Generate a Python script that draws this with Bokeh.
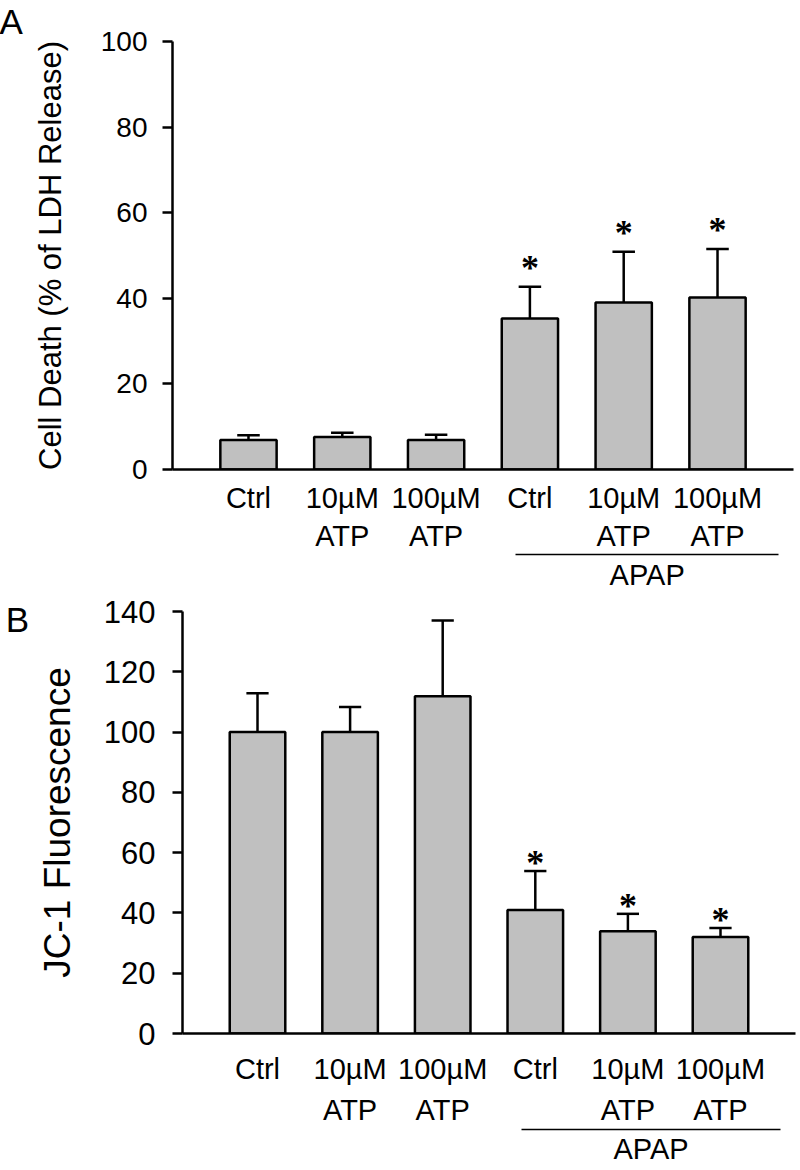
from bokeh.plotting import figure
from bokeh.models import FixedTicker, LinearAxis, Range1d, ColumnDataSource, Label
from bokeh.layouts import column
from bokeh.embed import file_html
from bokeh.resources import INLINE

# ---------------- data ----------------
categories = ["Ctrl", "10µM\nATP", "100µM\nATP", "Ctrl", "10µM\nATP", "100µM\nATP"]
group_label = "APAP"

ldh_mean = [6.9, 7.6, 6.9, 35.3, 39.0, 40.2]
ldh_err = [1.1, 1.0, 1.2, 7.4, 11.9, 11.3]
ldh_sig = [False, False, False, True, True, True]
ldh_ticks = [0, 20, 40, 60, 80, 100]

jc1_mean = [100.0, 100.0, 111.9, 41.0, 33.9, 32.0]
jc1_err = [12.9, 8.3, 25.1, 12.9, 5.8, 3.0]
jc1_sig = [False, False, False, True, True, True]
jc1_ticks = [0, 20, 40, 60, 80, 100, 120, 140]

FONT = "Liberation Sans"
BAR_FILL = "#c0c0c0"
INK = "#000000"


def make_panel(ylabel, means, errs, sig, ticks, height, borders,
               tick_font, ylabel_font, tick_standoff, ylabel_standoff,
               cat_standoff, cat_line_height, group_standoff, star_offset):
    left, right, top, bottom = borders
    p = figure(width=800, height=height, output_backend="svg", toolbar_location=None,
               x_range=Range1d(-0.81, 5.81), y_range=Range1d(0, ticks[-1]),
               min_border_left=left, min_border_right=right,
               min_border_top=top, min_border_bottom=bottom)
    p.frame_align = False
    p.outline_line_color = None
    p.grid.visible = False
    p.background_fill_color = "white"
    p.border_fill_color = "white"

    n = len(means)
    xs = list(range(n))
    tops = [m + e for m, e in zip(means, errs)]
    src = ColumnDataSource(dict(x=xs, top=means, cap=tops,
                                cap_l=[x - 0.12 for x in xs], cap_r=[x + 0.12 for x in xs]))
    # error bars (upper only)
    p.segment(x0="x", y0="top", x1="x", y1="cap", source=src, line_color=INK, line_width=2.5)
    p.segment(x0="cap_l", y0="cap", x1="cap_r", y1="cap", source=src, line_color=INK, line_width=2.5)
    # bars
    p.vbar(x="x", top="top", bottom=0, width=0.6, source=src,
           fill_color=BAR_FILL, line_color=INK, line_width=2.5)
    # significance stars
    sx = [x for x, s in zip(xs, sig) if s]
    sy = [c for c, s in zip(tops, sig) if s]
    p.text(x=sx, y=sy, text=["*"] * len(sx), text_align="center", text_baseline="alphabetic",
           y_offset=star_offset, text_font="Liberation Sans", text_font_size="36px",
           text_font_style="bold", text_color=INK)

    # y axis
    ya = p.yaxis[0]
    ya.ticker = FixedTicker(ticks=ticks)
    ya.axis_label = ylabel
    ya.axis_label_text_font = FONT
    ya.axis_label_text_font_size = ylabel_font
    ya.axis_label_text_font_style = "normal"
    ya.axis_label_text_color = INK
    ya.axis_label_standoff = ylabel_standoff
    ya.major_label_text_font = FONT
    ya.major_label_text_font_size = tick_font
    ya.major_label_text_color = INK
    ya.major_label_standoff = tick_standoff
    ya.major_tick_out = 10
    ya.major_tick_in = 0
    ya.minor_tick_line_color = None
    ya.axis_line_width = 2.5
    ya.major_tick_line_width = 2.5
    ya.axis_line_color = INK
    ya.major_tick_line_color = INK

    # x axis with category labels
    xa = p.xaxis[0]
    xa.ticker = FixedTicker(ticks=xs)
    xa.major_label_overrides = {i: c for i, c in enumerate(categories)}
    xa.major_label_text_font = FONT
    xa.major_label_text_font_size = "29px"
    xa.major_label_text_line_height = cat_line_height
    xa.major_label_text_color = INK
    xa.major_label_standoff = cat_standoff
    xa.major_tick_line_color = None
    xa.major_tick_out = 0
    xa.major_tick_in = 0
    xa.minor_tick_line_color = None
    xa.axis_line_width = 2.5
    xa.axis_line_color = INK

    # group axis (APAP)
    ga = LinearAxis(ticker=FixedTicker(ticks=[4.25]), bounds=(2.85, 5.65),
                    major_label_overrides={4.25: group_label})
    ga.major_label_text_font = FONT
    ga.major_label_text_font_size = "29px"
    ga.major_label_text_color = INK
    ga.major_label_standoff = group_standoff
    ga.major_tick_line_color = None
    ga.major_tick_out = 0
    ga.major_tick_in = 0
    ga.minor_tick_line_color = None
    ga.axis_line_width = 1.5
    ga.axis_line_color = INK
    p.add_layout(ga, "below")
    return p


pa = make_panel("Cell Death (% of LDH Release)", ldh_mean, ldh_err, ldh_sig, ldh_ticks,
                593, (172, 7, 39, 124), "28px", "31px", 15, 30, 12, 1.2, 4, -19)
pb = make_panel("JC-1 Fluorescence", jc1_mean, jc1_err, jc1_sig, jc1_ticks,
                577, (182, 5, 18, 137), "31px", "37px", 17, 23, 19, 1.3, 3, -8)

# panel letter A as the plot title, pulled to the left edge
pa.title.text = "A"
pa.title.align = "left"
pa.title.vertical_align = "middle"
pa.title.offset = -173
pa.title.standoff = 0
pa.title.text_font = FONT
pa.title.text_font_size = "35px"
pa.title.text_font_style = "normal"
pa.title.text_color = INK

# panel letter B as a label placed in the left side panel (not clipped to the frame)
pb.add_layout(Label(x=-2.72, y=137.4, x_units="data", y_units="data", text="B",
                    text_font=FONT, text_font_size="35px", text_color=INK,
                    text_align="left", text_baseline="alphabetic"), "left")

layout = column(pa, pb, spacing=0)
open("out.html", "w").write(file_html(layout, INLINE))
